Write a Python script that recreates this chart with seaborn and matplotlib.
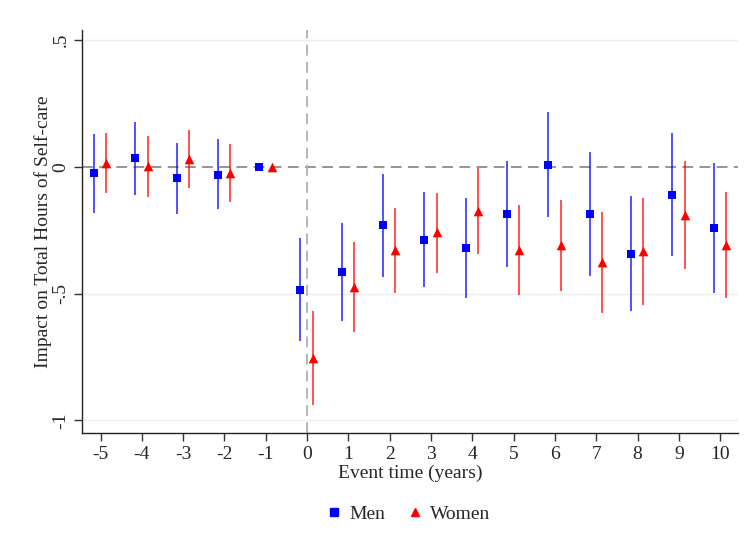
import numpy as np
import pandas as pd
import matplotlib
matplotlib.use("Agg")
import matplotlib.pyplot as plt
import seaborn as sns
from matplotlib.lines import Line2D

sns.set_style("white")
plt.rcParams["font.family"] = ["Liberation Serif", "DejaVu Serif"]

event_time = [-5, -4, -3, -2, -1, 0, 1, 2, 3, 4, 5, 6, 7, 8, 9, 10]

men_coef = [-0.025, 0.036, -0.043, -0.030, 0.0, -0.484, -0.415, -0.231, -0.287,
            -0.319, -0.185, 0.008, -0.186, -0.343, -0.109, -0.242]
men_lo = [-0.180, -0.109, -0.184, -0.167, 0.0, -0.689, -0.610, -0.433, -0.473,
          -0.518, -0.395, -0.199, -0.429, -0.569, -0.350, -0.499]
men_hi = [0.129, 0.178, 0.096, 0.109, 0.0, -0.279, -0.221, -0.028, -0.100,
          -0.123, 0.024, 0.216, 0.058, -0.116, 0.133, 0.016]

women_coef = [0.015, 0.004, 0.032, -0.022, 0.0, -0.754, -0.473, -0.329, -0.258,
              -0.173, -0.327, -0.308, -0.375, -0.332, -0.188, -0.308]
women_lo = [-0.103, -0.119, -0.084, -0.140, 0.0, -0.941, -0.650, -0.497, -0.418,
            -0.343, -0.506, -0.489, -0.575, -0.545, -0.402, -0.518]
women_hi = [0.132, 0.123, 0.146, 0.092, 0.0, -0.569, -0.296, -0.162, -0.103,
            -0.004, -0.152, -0.132, -0.177, -0.124, 0.022, -0.100]

groups = ["Men", "Women"]
colors = {"Men": "#0000ff", "Women": "#ff0000"}
markers = {"Men": "s", "Women": "^"}
shift = {"Men": -0.16, "Women": 0.14}

df = pd.concat([
    pd.DataFrame({"t": event_time, "coef": men_coef, "lo": men_lo, "hi": men_hi, "group": "Men"}),
    pd.DataFrame({"t": event_time, "coef": women_coef, "lo": women_lo, "hi": women_hi, "group": "Women"}),
], ignore_index=True)
df["x"] = df["t"] + df["group"].map(shift)

fig = plt.figure(figsize=(7.45, 5.48), dpi=100)
ax = fig.add_axes([0.110, 0.210, 0.881, 0.735])

# reference lines and light grid
for yv in [0.5, -0.5, -1.0]:
    ax.axhline(yv, color="#eaf0f2", lw=1.0, zorder=0)
ax.axhline(0, color="#8c8c8c", lw=1.3, ls=(0, (6, 3.5)), zorder=1)
ax.axvline(0, color="#b0b0b0", lw=1.3, ls=(0, (6, 3.5)), zorder=1)

# confidence intervals
for g in groups:
    sub = df[(df["group"] == g) & (df["hi"] > df["lo"])]
    ax.vlines(sub["x"], sub["lo"], sub["hi"], color=colors[g], lw=1.2, alpha=0.8, zorder=2)

# point estimates
sns.scatterplot(data=df[df["group"] == "Men"], x="x", y="coef", ax=ax,
                marker="s", color=colors["Men"], s=38, linewidth=0, zorder=3, legend=False)
sns.scatterplot(data=df[df["group"] == "Women"], x="x", y="coef", ax=ax,
                marker="^", color=colors["Women"], s=48, linewidth=0, zorder=3, legend=False)

ax.set_xlim(-5.45, 10.44)
ax.set_ylim(-1.05, 0.54)
ax.set_xticks(event_time)
ax.set_xticklabels([str(v) for v in event_time], fontsize=14)
ax.set_yticks([0.5, 0, -0.5, -1])
ax.set_yticklabels([".5", "0", "-.5", "-1"], fontsize=14, rotation=90, va="center")
ax.tick_params(axis="both", direction="out", length=6, width=1, color="#333333", bottom=True, left=True)
ax.tick_params(axis="y", pad=3)
ax.set_xlabel("Event time (years)", fontsize=14, labelpad=1)
ax.set_ylabel("Impact on Total Hours of Self-care", fontsize=14, labelpad=0)
for side in ["top", "right"]:
    ax.spines[side].set_visible(False)
for side in ["left", "bottom"]:
    ax.spines[side].set_color("#222222")
    ax.spines[side].set_linewidth(1.0)

handles = [Line2D([], [], ls="none", marker=markers[g], color=colors[g], markersize=6) for g in groups]
fig.legend(handles, groups, loc="center", bbox_to_anchor=(0.548, 0.062), ncol=2,
           frameon=False, fontsize=14, handletextpad=0.4, columnspacing=1.1, handlelength=0.8)

fig.savefig("out.png", dpi=100, facecolor="white")
